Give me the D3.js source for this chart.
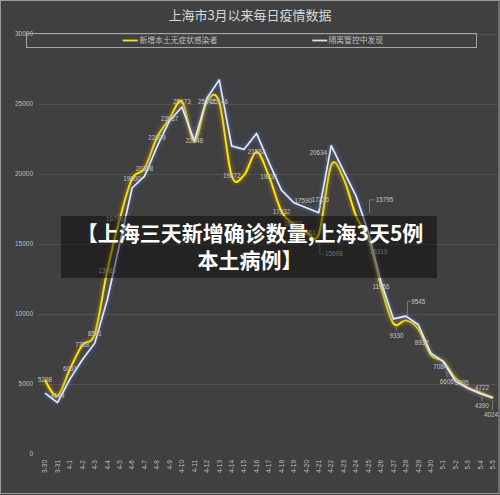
<!DOCTYPE html>
<html><head><meta charset="utf-8">
<script src="https://cdn.jsdelivr.net/npm/d3@7/dist/d3.min.js"></script>
<style>html,body{margin:0;padding:0;background:#404040;}svg{display:block;}</style>
</head><body>
<svg id="chart" width="500" height="495"></svg>
<script>
const title = "上海市3月以来每日疫情数据";
const seriesNames = ["新增本土无症状感染者", "隔离管控中发现"];
const dates = ["3-30","3-31","4-1","4-2","4-3","4-4","4-5","4-6","4-7","4-8","4-9","4-10","4-11","4-12","4-13","4-14","4-15","4-16","4-17","4-18","4-19","4-20","4-21","4-22","4-23","4-24","4-25","4-26","4-27","4-28","4-29","4-30","5-1","5-2","5-3","5-4","5-5"];
const asymptomatic = [5298,4144,6051,7788,8581,13086,16766,19660,20398,22609,23937,25173,22348,25141,25146,19872,19923,21582,19831,17332,16407,15861,15698,20634,19657,16983,15319,11956,9330,9545,8932,7084,6606,5395,4722,4390,4024];
const inControl = [4350,3670,5350,6730,7920,11000,15000,19000,19850,21950,23790,24790,22350,25390,26720,22000,21760,22900,20810,18850,17950,17590,17235,22032,20210,18420,15795,12300,9650,9850,9230,7210,6610,5180,4700,4300,4000];
const yTicks = [0,5000,10000,15000,20000,25000,30000];
const bannerLines = ["【上海三天新增确诊数量,上海3天5例", "本土病例】"];

// label placement (series index, point index, offset, leader)
const labelSpecs = [
  {s:0,i:0,dx:0,dy:0},{s:0,i:1,dx:0,dy:0},{s:0,i:2,dx:0,dy:0},{s:0,i:3,dx:0,dy:0},
  {s:0,i:4,dx:0,dy:0},{s:0,i:5,dx:0,dy:0},{s:0,i:6,dx:-5,dy:0},{s:0,i:7,dx:0,dy:0},
  {s:0,i:8,dx:0,dy:0},{s:0,i:9,dx:0,dy:0},{s:0,i:10,dx:0,dy:0},{s:0,i:11,dx:0,dy:0},
  {s:0,i:12,dx:0,dy:0},{s:0,i:13,dx:0,dy:0},{s:0,i:14,dx:0,dy:0},{s:0,i:15,dx:0,dy:0},
  {s:0,i:17,dx:0,dy:0},{s:0,i:18,dx:0,dy:0},{s:0,i:19,dx:0,dy:0},{s:0,i:20,dx:-1,dy:-1},
  {s:0,i:21,dx:1,dy:1},
  {s:0,i:22,dx:15,dy:20,leader:[[1,8],[1,20],[5,20]]},
  {s:0,i:23,dx:-13,dy:-12,leader:[[-5,-9],[-4,-2]]},
  {s:0,i:26,dx:10,dy:12},
  {s:0,i:27,dx:0,dy:0},
  {s:0,i:28,dx:3,dy:12,leader:[[3,3],[3,8]]},
  {s:0,i:29,dx:12.5,dy:-19,leader:[[1.5,-4],[1.5,-19],[4.5,-19]]},
  {s:0,i:30,dx:3.5,dy:14},
  {s:0,i:31,dx:9.4,dy:11.5},
  {s:0,i:32,dx:3.6,dy:20,leader:[[3.6,9],[3.6,16]]},
  {s:0,i:33,dx:6,dy:4},
  {s:0,i:34,dx:14,dy:0},
  {s:0,i:35,dx:1.3,dy:13,leader:[[1.3,4],[1.3,9]]},
  {s:0,i:36,dx:-2,dy:17,leader:[[0,2.5],[-1,12.5]]},
  {s:1,i:21,dx:-3,dy:-7},
  {s:1,i:22,dx:1.5,dy:-13,leader:[[1.5,-9],[0.5,-4]]},
  {s:1,i:26,dx:16,dy:-33,leader:[[1,-20],[1,-33],[6,-33]]}
];

const svg = d3.select("#chart");
const numFont = "'Liberation Sans', Arial, sans-serif";
const cjkFont = "'Noto Sans CJK SC', 'Noto Sans', sans-serif";

// defs: glow filters
const defs = svg.append("defs");
function glow(id, color, op) {
  const f = defs.append("filter").attr("id", id)
    .attr("filterUnits","userSpaceOnUse").attr("x",0).attr("y",0).attr("width",500).attr("height",495);
  f.append("feGaussianBlur").attr("in","SourceAlpha").attr("stdDeviation",2).attr("result","b");
  f.append("feFlood").attr("flood-color",color).attr("flood-opacity",op).attr("result","c");
  f.append("feComposite").attr("in","c").attr("in2","b").attr("operator","in").attr("result","g");
  const m = f.append("feMerge");
  m.append("feMergeNode").attr("in","g");
  m.append("feMergeNode").attr("in","g");
  m.append("feMergeNode").attr("in","SourceGraphic");
}
glow("glowY", "#c8781e", 0.75);
glow("glowW", "#4a70b8", 0.75);

svg.append("rect").attr("x",0).attr("y",0).attr("width",500).attr("height",495).attr("fill","#404040");
svg.append("rect").attr("x",0.5).attr("y",0.5).attr("width",498.5).attr("height",493)
  .attr("fill","none").attr("stroke","#9a9a9a").attr("stroke-width",1);

const x = d3.scalePoint().domain(dates).range([38.8, 499.2]).padding(0.5);
const y = d3.scaleLinear().domain([0, 30000]).range([454, 34]);

// gridlines
svg.append("g").selectAll("line").data(yTicks.filter(d => d > 0)).join("line")
  .attr("x1", 39).attr("x2", 497)
  .attr("y1", d => Math.round(y(d)) + 0.5).attr("y2", d => Math.round(y(d)) + 0.5)
  .attr("stroke", "#525252").attr("stroke-width", 1);

// y axis labels
svg.append("g").selectAll("text").data(yTicks).join("text")
  .attr("x", 33).attr("y", d => y(d)).attr("dy","0.35em")
  .attr("text-anchor","end").attr("font-family", numFont).attr("font-size", 6.5)
  .attr("fill","#bfbfbf").text(d => d);

// x axis labels
svg.append("g").selectAll("text").data(dates).join("text")
  .attr("transform", d => `translate(${x(d)},460) rotate(-90)`)
  .attr("dy","0.35em").attr("text-anchor","end")
  .attr("font-family", numFont).attr("font-size", 6.5).attr("fill","#bfbfbf")
  .text(d => d);

// title
svg.append("text").attr("x",250).attr("y",15).attr("dy","0.35em").attr("text-anchor","middle")
  .attr("font-family", cjkFont).attr("font-size",13).attr("fill","#d9d9d9").text(title);

// legend
svg.append("rect").attr("x",26.5).attr("y",33.5).attr("width",450).attr("height",14)
  .attr("fill","none").attr("stroke","#a6a6a6").attr("stroke-width",1);
const legendItems = [
  {name: seriesNames[0], color:"#f5f000", lx:122.7, tx:139.5},
  {name: seriesNames[1], color:"#dde0f0", lx:312.3, tx:328.5}
];
legendItems.forEach(l => {
  svg.append("line").attr("x1", l.lx).attr("x2", l.lx+15).attr("y1",40.5).attr("y2",40.5)
    .attr("stroke", l.color).attr("stroke-width",1.8);
  svg.append("text").attr("x", l.tx).attr("y",40.5).attr("dy","0.35em")
    .attr("font-family", cjkFont).attr("font-size",7.8).attr("fill","#bfbfbf").text(l.name);
});

// lines
const lineSmooth = d3.line().x((d,i) => x(dates[i])).y(d => y(d)).curve(d3.curveCardinal.tension(0));
const lineStraight = d3.line().x((d,i) => x(dates[i])).y(d => y(d));

svg.append("path").attr("d", lineSmooth(asymptomatic)).attr("fill","none")
  .attr("stroke","#f2ee00").attr("stroke-width",1.9).attr("stroke-linejoin","round")
  .attr("filter","url(#glowY)");
svg.append("path").attr("d", lineStraight(inControl)).attr("fill","none")
  .attr("stroke","#e8e9f6").attr("stroke-width",1.6).attr("stroke-linejoin","round")
  .attr("filter","url(#glowW)");

// data labels
const allSeries = [asymptomatic, inControl];
const lg = svg.append("g");
labelSpecs.forEach(sp => {
  const v = allSeries[sp.s][sp.i];
  const px = x(dates[sp.i]), py = y(v);
  if (sp.leader) {
    lg.append("polyline")
      .attr("points", sp.leader.map(p => [px + p[0], py + p[1]].join(",")).join(" "))
      .attr("fill","none").attr("stroke","#8c8c8c").attr("stroke-width",0.8);
  }
  lg.append("text").attr("x", px + sp.dx).attr("y", py + sp.dy).attr("dy","0.35em")
    .attr("text-anchor","middle").attr("font-family", numFont).attr("font-size",6.3)
    .attr("fill","#c4c4c4").text(v);
});

// banner overlay
svg.append("rect").attr("x",61).attr("y",216).attr("width",376).attr("height",62)
  .attr("fill","#000").attr("fill-opacity",0.45);
bannerLines.forEach((t, k) => {
  svg.append("text").attr("x",250).attr("y",233.5 + k*27).attr("dy","0.35em")
    .attr("text-anchor","middle").attr("font-family", cjkFont).attr("font-weight","bold")
    .attr("font-size",21).attr("fill","#ffffff").text(t);
});
</script>
</body></html>
